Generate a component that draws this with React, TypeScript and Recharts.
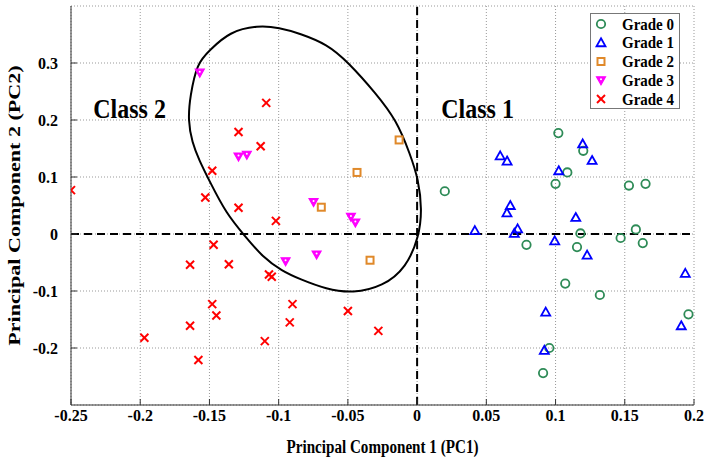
import {
  ScatterChart,
  Scatter,
  XAxis,
  YAxis,
  CartesianGrid,
  ReferenceLine,
  ReferenceDot,
  Legend,
} from 'recharts';

// [PC1, PC2] per grade
const grade0 = [
  [0.102, 0.177], [0.12, 0.146], [0.1085, 0.108], [0.02, 0.075], [0.1, 0.088],
  [0.153, 0.085], [0.165, 0.088], [0.158, 0.008], [0.118, 0.001], [0.147, -0.007],
  [0.163, -0.016], [0.079, -0.019], [0.1155, -0.023], [0.107, -0.087], [0.132, -0.107],
  [0.196, -0.141], [0.0955, -0.2], [0.091, -0.244],
];
const grade1 = [
  [0.06, 0.137], [0.065, 0.128], [0.1196, 0.158], [0.1264, 0.129], [0.1023, 0.111],
  [0.0673, 0.05], [0.0649, 0.037], [0.1146, 0.029], [0.0417, 0.006], [0.0726, 0.009],
  [0.0702, 0.001], [0.0994, -0.012], [0.1228, -0.037], [0.1937, -0.069], [0.0929, -0.137],
  [0.0919, -0.204], [0.1908, -0.161],
];
const grade2 = [[-0.013, 0.165], [-0.0434, 0.108], [-0.0692, 0.047], [-0.034, -0.046]];
const grade3 = [
  [-0.157, 0.283], [-0.129, 0.136], [-0.123, 0.139], [-0.0748, 0.056],
  [-0.0478, 0.03], [-0.0446, 0.02], [-0.095, -0.048], [-0.0726, -0.036],
];
const grade4 = [
  [-0.25, 0.077], [-0.109, 0.23], [-0.129, 0.179], [-0.113, 0.154], [-0.148, 0.111],
  [-0.153, 0.064], [-0.129, 0.046], [-0.102, 0.023], [-0.147, -0.019], [-0.164, -0.054],
  [-0.136, -0.053], [-0.107, -0.071], [-0.105, -0.075], [-0.148, -0.123], [-0.145, -0.143],
  [-0.09, -0.123], [-0.092, -0.155], [-0.164, -0.161], [-0.197, -0.182], [-0.158, -0.221],
  [-0.11, -0.188], [-0.05, -0.135], [-0.028, -0.17],
];

// boundary of the class 2 ellipse, traced clockwise from the top
const ellipse = [
  [-0.115, 0.366], [-0.0994, 0.362], [-0.0849, 0.352], [-0.065, 0.333], [-0.05, 0.302],
  [-0.0295, 0.246], [-0.015, 0.2], [-0.005, 0.14], [0.001, 0.095], [0.0035, 0.043],
  [0.0015, -0.004], [-0.0078, -0.059], [-0.0247, -0.092], [-0.0464, -0.104],
  [-0.0656, -0.097], [-0.0849, -0.079], [-0.0975, -0.065], [-0.1114, -0.041],
  [-0.1246, -0.003], [-0.1379, 0.036], [-0.15, 0.093], [-0.1575, 0.13], [-0.1625, 0.16],
  [-0.1655, 0.2], [-0.164, 0.241], [-0.159, 0.3], [-0.15, 0.322], [-0.1355, 0.355],
];

const xTicks = [-0.25, -0.2, -0.15, -0.1, -0.05, 0, 0.05, 0.1, 0.15, 0.2];
const yTicks = [-0.2, -0.1, 0, 0.1, 0.2, 0.3];
const gradeNames = ['Grade 0', 'Grade 1', 'Grade 2', 'Grade 3', 'Grade 4'];

const toPoints = (arr: number[][]) => arr.map(([x, y]) => ({ x, y }));

const FONT = '"Liberation Serif", "Times New Roman", serif';

const Circle = ({ cx, cy }: any) => (
  <circle cx={cx} cy={cy} r={4.2} fill="none" stroke="#2e8b57" strokeWidth={1.8} />
);
const TriUp = ({ cx, cy }: any) => (
  <polygon
    points={`${cx},${cy - 4.5} ${cx + 4.5},${cy + 3.5} ${cx - 4.5},${cy + 3.5}`}
    fill="none"
    stroke="#0000ff"
    strokeWidth={1.8}
  />
);
const Square = ({ cx, cy }: any) => (
  <rect x={cx - 3.5} y={cy - 3.5} width={7} height={7} fill="none" stroke="#e0892a" strokeWidth={2} />
);
const TriDown = ({ cx, cy }: any) => (
  <g>
    <polygon
      points={`${cx - 4.5},${cy - 3.5} ${cx + 4.5},${cy - 3.5} ${cx},${cy + 4.5}`}
      fill="#ff00ff"
      stroke="#ff00ff"
      strokeWidth={1.2}
    />
    <circle cx={cx} cy={cy - 1} r={1} fill="#fff" />
  </g>
);
const Cross = ({ cx, cy }: any) => (
  <g stroke="#ff0000" strokeWidth={2}>
    <line x1={cx - 4} y1={cy - 4} x2={cx + 4} y2={cy + 4} />
    <line x1={cx - 4} y1={cy + 4} x2={cx + 4} y2={cy - 4} />
  </g>
);

const shapes = [Circle, TriUp, Square, TriDown, Cross];

const LegendBox = () => (
  <svg width={90} height={96}>
    <rect x={0.5} y={0.5} width={89} height={95} fill="#fff" stroke="#777" />
    {gradeNames.map((name, i) => {
      const Shape = shapes[i];
      const cy = 11 + i * 18.75;
      return (
        <g key={name}>
          <Shape cx={11} cy={cy} />
          <text
            x={32}
            y={cy + 5}
            fontFamily={FONT}
            fontWeight="bold"
            fontSize={15}
            fill="#000"
            transform={`translate(0 ${cy}) scale(1 1.12) translate(0 ${-cy})`}
          >
            {name}
          </text>
        </g>
      );
    })}
  </svg>
);

const tickStyle = { fill: '#000', fontSize: 16, fontWeight: 'bold', fontFamily: FONT };

// the source figure is stretched vertically, so titles are drawn scaled
const XTitle = ({ viewBox }: any) => {
  const cx = viewBox.x + viewBox.width / 2;
  const y = viewBox.y + viewBox.height - 11;
  return (
    <text
      transform={`translate(${cx} ${y}) scale(0.89 1.08)`}
      textAnchor="middle"
      fontFamily={FONT}
      fontWeight="bold"
      fontSize={17}
      fill="#000"
    >
      Principal Component 1 (PC1)
    </text>
  );
};

const YTitle = ({ viewBox }: any) => {
  const cy = viewBox.y + viewBox.height / 2;
  return (
    <text
      transform={`translate(20 ${cy}) rotate(-90) scale(1.3 1)`}
      textAnchor="middle"
      fontFamily={FONT}
      fontWeight="bold"
      fontSize={17}
      fill="#000"
    >
      Principal Component 2 (PC2)
    </text>
  );
};

const ClassLabel = ({ viewBox, value }: any) => {
  const cx = viewBox.x + viewBox.width / 2;
  const cy = viewBox.y + viewBox.height / 2;
  return (
    <text
      transform={`translate(${cx} ${cy + 8}) scale(1 1.15)`}
      textAnchor="middle"
      fontFamily={FONT}
      fontWeight="bold"
      fontSize={24}
      fill="#000"
    >
      {value}
    </text>
  );
};

export default function App() {
  return (
    <div style={{ position: 'absolute', left: 0, top: 0, background: '#fff' }}>
      <ScatterChart width={710} height={464} margin={{ top: 6, right: 16, bottom: 0, left: 0 }}>
        <CartesianGrid stroke="#999" strokeDasharray="1 2" />
        <XAxis
          type="number"
          dataKey="x"
          domain={[-0.25, 0.2]}
          ticks={xTicks}
          allowDataOverflow
          height={59}
          stroke="#333"
          tickSize={-6}
          tickMargin={11}
          tick={tickStyle}
          label={<XTitle />}
        />
        <YAxis
          type="number"
          dataKey="y"
          domain={[-0.3, 0.4]}
          ticks={yTicks}
          allowDataOverflow
          width={71}
          stroke="#333"
          tickSize={-6}
          tickMargin={19}
          tick={tickStyle}
          label={<YTitle />}
        />
        <XAxis
          xAxisId="top"
          orientation="top"
          type="number"
          domain={[-0.25, 0.2]}
          ticks={xTicks}
          height={0}
          stroke="#333"
          tickSize={-6}
          tick={false}
        />
        <YAxis
          yAxisId="right"
          orientation="right"
          type="number"
          domain={[-0.3, 0.4]}
          ticks={yTicks}
          width={0}
          stroke="#333"
          tickSize={-6}
          tick={false}
        />
        <ReferenceLine x={0} stroke="#000" strokeWidth={2} strokeDasharray="8 5" />
        <ReferenceLine y={0} stroke="#000" strokeWidth={2} strokeDasharray="8 5" />
        <Scatter
          name="ellipse"
          data={toPoints(ellipse)}
          legendType="none"
          shape={() => <g />}
          line={{ stroke: '#000', strokeWidth: 2 }}
          lineType="joint"
          lineJointType="basisClosed"
          isAnimationActive={false}
        />
        <Scatter name="Grade 0" data={toPoints(grade0)} shape={Circle} isAnimationActive={false} />
        <Scatter name="Grade 1" data={toPoints(grade1)} shape={TriUp} isAnimationActive={false} />
        <Scatter name="Grade 2" data={toPoints(grade2)} shape={Square} isAnimationActive={false} />
        <Scatter name="Grade 3" data={toPoints(grade3)} shape={TriDown} isAnimationActive={false} />
        <Scatter name="Grade 4" data={toPoints(grade4)} shape={Cross} isAnimationActive={false} />
        <ReferenceDot
          x={-0.2077}
          y={0.218}
          r={1}
          fill="none"
          stroke="none"
          label={<ClassLabel value="Class 2" />}
        />
        <ReferenceDot
          x={0.0437}
          y={0.218}
          r={1}
          fill="none"
          stroke="none"
          label={<ClassLabel value="Class 1" />}
        />
        <Legend
          layout="vertical"
          align="center"
          verticalAlign="middle"
          wrapperStyle={{ left: 590, top: 13, width: 90 }}
          content={() => <LegendBox />}
        />
      </ScatterChart>
    </div>
  );
}
